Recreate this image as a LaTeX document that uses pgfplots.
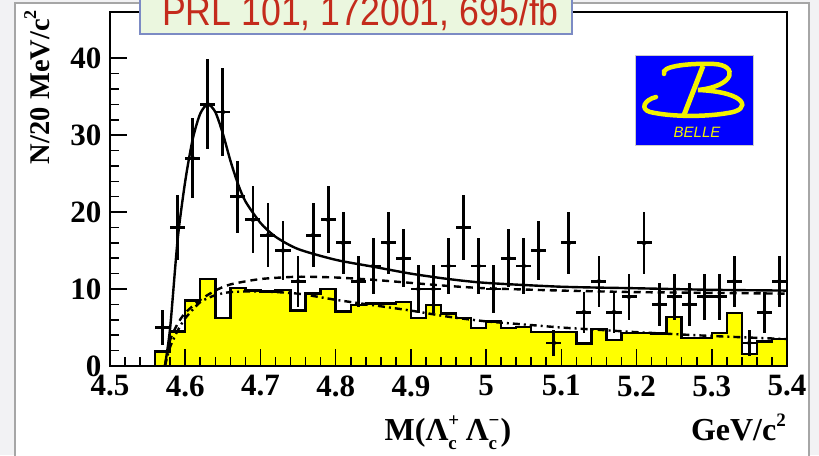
\documentclass[border=0pt]{standalone}
\usepackage{pgfplots}
\pgfplotsset{compat=1.18}
\usepackage{pgfplotstable}
\usepackage{fontspec}
\setmainfont{Liberation Serif}
\newfontfamily\sans{Liberation Sans}
\definecolor{bgray}{HTML}{F2F2F4}
\definecolor{pgray}{HTML}{A6A6A6}
\definecolor{bgreen}{HTML}{EBF7DF}
\definecolor{bblue}{HTML}{7C8BC4}
\definecolor{bred}{HTML}{C42B1C}
\definecolor{hyellow}{HTML}{FFFF00}
\definecolor{lyellow}{HTML}{F2F200}
\definecolor{lblue}{HTML}{0000FF}
\newcommand\lab{\bfseries\fontsize{31}{31}\selectfont}
\newcommand\ttl{\bfseries\fontsize{32}{32}\selectfont}
\newcommand\ytl{\bfseries\fontsize{28.5}{28.5}\selectfont}
\newcommand\sm{\fontsize{19}{19}\selectfont}
\newcommand\supsub[2]{\rlap{\raisebox{0.45em}{\sm #1}}\makebox[12pt][l]{\raisebox{-0.28em}{\sm #2}}}

\pgfplotstableread{
x ex y ey
4.57 0.01 5 2.24
4.59 0.01 18 4.24
4.61 0.01 27 5.20
4.63 0.01 34 5.83
4.65 0.01 33 5.74
4.67 0.01 22 4.69
4.69 0.01 19 4.36
4.71 0.01 17 4.12
4.73 0.01 15 3.87
4.75 0.01 11 3.32
4.77 0.01 17 4.12
4.79 0.01 19 4.36
4.81 0.01 16 4.00
4.83 0.01 11 3.32
4.85 0.01 13 3.61
4.87 0.01 16 4.00
4.89 0.01 14 3.74
4.91 0.01 10 3.16
4.93 0.01 10 3.16
4.95 0.01 13 3.61
4.97 0.01 18 4.24
4.99 0.01 13 3.61
5.01 0.01 10 3.16
5.03 0.01 14 3.74
5.05 0.01 13 3.61
5.07 0.01 15 3.87
5.09 0.01 3 1.73
5.11 0.01 16 4.00
5.13 0.01 7 2.65
5.15 0.01 11 3.32
5.17 0.01 7 2.65
5.19 0.01 9 3.00
5.21 0.01 16 4.00
5.23 0.01 8 2.83
5.25 0.01 9 3.00
5.27 0.01 8 2.83
5.29 0.01 9 3.00
5.31 0.01 9 3.00
5.33 0.01 11 3.32
5.35 0.01 3 1.73
5.37 0.01 7 2.65
5.39 0.01 11 3.32
}\datatab

\pgfplotstableread{
x y
4.56 1.9
4.58 4.5
4.60 8.5
4.62 11.3
4.64 6.2
4.66 10.1
4.68 9.8
4.70 9.7
4.72 9.9
4.74 7.2
4.76 9.4
4.78 10.0
4.80 7.1
4.82 7.9
4.84 8.1
4.86 8.1
4.88 8.3
4.90 6.2
4.92 7.9
4.94 6.8
4.96 6.2
4.98 4.9
5.00 5.8
5.02 4.9
5.04 5.1
5.06 4.45
5.08 4.45
5.10 4.45
5.12 2.9
5.14 4.8
5.16 3.4
5.18 4.3
5.20 4.3
5.22 4.2
5.24 6.4
5.26 3.6
5.28 3.6
5.30 4.3
5.32 6.9
5.34 1.55
5.36 3.2
5.38 3.5
5.40 3.5
}\histtab

\begin{document}
\begin{tikzpicture}
\useasboundingbox (0pt,0pt) rectangle (819pt,455pt);
\clip (0pt,0pt) rectangle (819pt,455pt);
\begin{scope}[x=1pt,y=-1pt,yshift=455pt]
\fill[bgray] (0,0) rectangle (819,455);
\draw[fill=white, draw=pgray, line width=2pt] (15,3) rectangle (809,470);
\end{scope}

\begin{axis}[
  at={(110pt,89pt)}, anchor=south west, scale only axis,
  width=677pt, height=354pt,
  xmin=4.5, xmax=5.4, ymin=0, ymax=46,
  axis line style={line width=1.6pt},
  xtick pos=bottom, ytick pos=left,
  xtick={4.5,4.6,4.7,4.8,4.9,5.0,5.1,5.2,5.3,5.4},
  xticklabels={4.5,4.6,4.7,4.8,4.9,5,5.1,5.2,5.3,5.4},
  ytick={0,10,20,30,40},
  minor x tick num=4, minor y tick num=4,
  major tick length=17pt, minor tick length=8.5pt,
  tick style={line width=1.6pt, black},
  axis on top,
  /pgf/number format/assume math mode=true,
  ticklabel style={font=\lab},
  xticklabel style={yshift=-6pt},
  yticklabel style={xshift=-5pt},
]
\addplot[const plot, fill=hyellow, draw=black, line width=2.4pt] table[x=x,y=y] {\histtab} \closedcycle;

\addplot[black, line width=2.4pt, dash pattern=on 7pt off 4pt on 2pt off 4pt, smooth, tension=0.4] coordinates {
(4.573,0) (4.58,2.5) (4.59,4.6) (4.60,6.2) (4.62,8.3) (4.64,9.2) (4.66,9.6) (4.70,9.7) (4.75,9.4) (4.80,8.6) (4.85,7.9) (4.90,7.2) (4.95,6.4) (5.00,5.8) (5.05,5.4) (5.10,5.0) (5.15,4.7) (5.20,4.4) (5.30,3.9) (5.40,3.5)};

\addplot[black, line width=2.4pt, dash pattern=on 7pt off 5pt, smooth, tension=0.4] coordinates {
(4.573,0) (4.58,3.4) (4.59,5.5) (4.60,6.9) (4.62,8.6) (4.64,9.8) (4.66,10.6) (4.70,11.3) (4.75,11.6) (4.80,11.5) (4.85,11.2) (4.90,10.8) (4.95,10.4) (5.00,10.1) (5.10,9.8) (5.20,9.6) (5.30,9.5) (5.40,9.4)};

\addplot[black, line width=2.4pt, smooth, tension=0.45] coordinates {
(4.573,0) (4.58,5) (4.59,16.5) (4.60,24) (4.61,29.5) (4.62,32.8) (4.63,34) (4.64,33) (4.65,30.2) (4.66,26.7) (4.67,23.7) (4.68,21.4) (4.70,18.6) (4.72,16.8) (4.75,15.2) (4.80,13.8) (4.85,12.9) (4.90,12.0) (4.95,11.3) (5.00,10.8) (5.10,10.3) (5.20,10.1) (5.30,9.9) (5.40,9.8)};

\addplot[black, only marks, mark=none,
  error bars/.cd, x dir=both, x explicit, y dir=both, y explicit,
  error mark=none, error bar style={line width=2.8pt}]
  table[x=x, y=y, x error=ex, y error=ey] {\datatab};
\end{axis}

\begin{scope}[x=1pt,y=-1pt,yshift=455pt]
% banner
\draw[fill=bgreen, draw=bblue, line width=1.5pt] (140,-10) rectangle (572,34);
\node[anchor=base west, inner sep=0, text=bred, font=\sans\fontsize{41}{41}\selectfont] at (162,26) {\scalebox{0.87}[1]{PRL 101, 172001, 695/fb}};
% logo
\draw[fill=lblue, draw=gray!40, line width=0.8pt] (635,55) rectangle (753,145);
\draw[lyellow, line width=4.5pt, line cap=round]
  (664,74) .. controls (660,66) and (690,63) .. (714,64) .. controls (738,65) and (736,86) .. (698,90)
  .. controls (748,92) and (752,110) .. (728,113) .. controls (705,117) and (672,117) .. (650,112)
  .. controls (640,109) and (644,100) .. (656,97);
\draw[lyellow, line width=5pt] (703,66) -- (684,115);
\node[text=lyellow, font=\sans\itshape\fontsize{15}{15}\selectfont] at (697,132) {BELLE};
% axis titles
\node[rotate=90, anchor=base east, inner sep=0, font=\ytl] at (49,10) {N/20 MeV/c\raisebox{0.45em}{\fontsize{18}{18}\selectfont 2}};
\node[anchor=base, inner sep=0, font=\ttl] at (448,441) {M(Λ\supsub{+}{c}\,Λ\supsub{−}{c})};
\node[anchor=base east, inner sep=0, font=\ttl] at (786,441) {GeV/c\raisebox{0.45em}{\sm 2}};
\end{scope}
\end{tikzpicture}
\end{document}
